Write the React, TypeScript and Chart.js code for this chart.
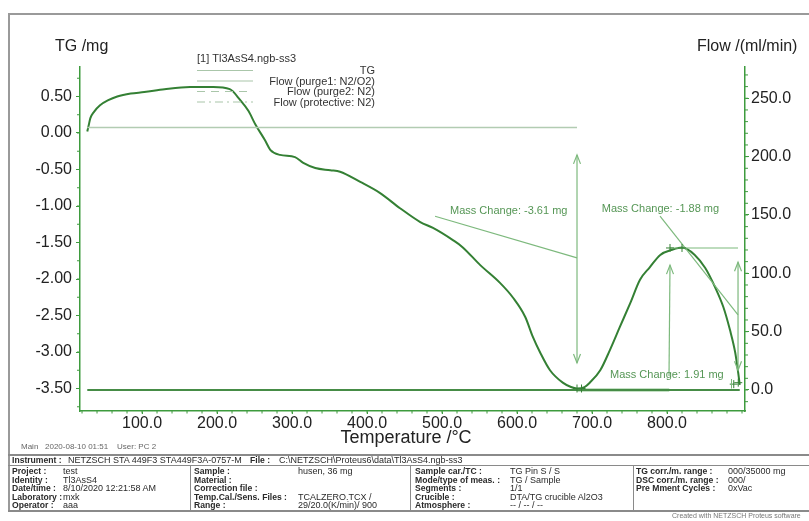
import React, { useEffect, useRef } from 'react';
import { Chart, registerables } from 'chart.js';

Chart.register(...registerables);

const FONT = '"Liberation Sans", Arial, sans-serif';

// ---- data ----
const TEMPS = [27, 29, 31, 36, 44, 55, 67, 85, 103, 130, 164, 195, 217, 231, 242, 251, 264, 271, 284, 304, 315, 331, 351, 364, 391, 417, 444, 471, 488, 515, 527, 551, 577, 595, 611, 621, 631, 644, 661, 672, 680, 690, 697, 711, 724, 737, 751, 764, 777, 791, 807, 820, 837, 851, 864, 875, 884, 891, 895, 897];
const TG_MG = [0.02, 0.11, 0.2, 0.29, 0.38, 0.45, 0.5, 0.54, 0.56, 0.6, 0.63, 0.63, 0.6, 0.45, 0.3, 0.12, -0.1, -0.23, -0.3, -0.33, -0.41, -0.48, -0.51, -0.53, -0.67, -0.82, -1.03, -1.22, -1.3, -1.47, -1.56, -1.81, -2.05, -2.26, -2.52, -2.79, -3.01, -3.25, -3.42, -3.48, -3.5, -3.48, -3.42, -3.25, -2.97, -2.66, -2.33, -2.01, -1.84, -1.67, -1.6, -1.57, -1.67, -1.85, -2.11, -2.38, -2.7, -3.01, -3.29, -3.45];

const PURGE1_TEMPS = [27, 680];
const FLOW_PURGE1 = [225, 225];
const PURGE2_TEMPS = [27, 897];
const FLOW_PURGE2 = [0, 0];
const PROTECTIVE_TEMPS = [680, 803];
const FLOW_PROTECTIVE = [0, 0];

const X_TICKS = [100, 200, 300, 400, 500, 600, 700, 800];
const TG_TICKS = [0.5, 0, -0.5, -1, -1.5, -2, -2.5, -3, -3.5];
const FLOW_TICKS = [0, 50, 100, 150, 200, 250];

const LEGEND_TITLE = '[1] Tl3AsS4.ngb-ss3';
const LEGEND_LABELS = ['TG', 'Flow (purge1: N2/O2)', 'Flow (purge2: N2)', 'Flow (protective: N2)'];

const MASS_LABELS = ['Mass Change: -3.61 mg', 'Mass Change: -1.88 mg', 'Mass Change: 1.91 mg'];
// annotation anchors in data units (temperature, mg)
const MASS_LABEL_T = [510.7, 713, 724];
const MASS_LABEL_MG = [-1.07, -1.04, -3.32];

// ---- styles ----
const AXIS_COLOR = 'rgb(62,155,62)';
const TG_COLOR = 'rgb(52,128,52)';
const ANNO_COLOR = 'rgb(125,185,125)';
const ANNO_TEXT = 'rgb(85,150,85)';
const LEGEND_LINE = 'rgb(170,198,170)';
const TEXT_COLOR = '#222';

const W = 809;
const CH = 452;

function line(ctx: CanvasRenderingContext2D, x1: number, y1: number, x2: number, y2: number) {
  ctx.beginPath();
  ctx.moveTo(x1, y1);
  ctx.lineTo(x2, y2);
  ctx.stroke();
}

function head(ctx: CanvasRenderingContext2D, x: number, y: number, dir: number) {
  // dir = -1 : pointing up, +1 : pointing down
  ctx.beginPath();
  ctx.moveTo(x - 3.5, y - dir * 9);
  ctx.lineTo(x, y);
  ctx.lineTo(x + 3.5, y - dir * 9);
  ctx.stroke();
}

function cross(ctx: CanvasRenderingContext2D, x: number, y: number) {
  line(ctx, x - 4, y, x + 4, y);
  line(ctx, x, y - 4, x, y + 4);
}

const decorPlugin = {
  id: 'decor',
  afterDatasetsDraw(chart: any) {
    const { ctx, chartArea: ca } = chart;
    const x = chart.scales.x;
    const y = chart.scales.y;
    const y1 = chart.scales.y1;
    const X = (v: number) => x.getPixelForValue(v);
    const Y = (v: number) => y.getPixelForValue(v);
    ctx.save();

    // minor ticks
    ctx.strokeStyle = AXIS_COLOR;
    ctx.lineWidth = 1;
    for (let v = 20; v <= 900; v += 20) {
      const px = X(v);
      if (px < ca.left || px > ca.right) continue;
      line(ctx, px, ca.bottom, px, ca.bottom + 2.5);
    }
    for (let v = -3.75; v <= 0.9; v += 0.25) {
      const py = Y(v);
      line(ctx, ca.left - 3, py, ca.left, py);
    }
    for (let v = -10; v <= 270; v += 10) {
      const py = y1.getPixelForValue(v);
      line(ctx, ca.right, py, ca.right + 3, py);
    }

    // axis titles
    ctx.fillStyle = TEXT_COLOR;
    ctx.textBaseline = 'alphabetic';
    ctx.font = `16px ${FONT}`;
    ctx.textAlign = 'left';
    ctx.fillText('TG /mg', 55, 51);
    ctx.fillText('Flow /(ml/min)', 697, 51);
    ctx.font = `18px ${FONT}`;
    ctx.textAlign = 'center';
    ctx.fillText('Temperature /\u00B0C', 406, 443);

    // legend
    ctx.font = `11px ${FONT}`;
    ctx.fillStyle = '#333';
    ctx.textAlign = 'left';
    ctx.textBaseline = 'middle';
    ctx.fillText(LEGEND_TITLE, 197, 59);
    const dashes = [[], [], [8, 6], [8, 4, 2, 4]];
    const rowsY = [70.5, 81, 91.5, 102];
    ctx.textAlign = 'right';
    LEGEND_LABELS.forEach((lab, i) => {
      ctx.strokeStyle = LEGEND_LINE;
      ctx.lineWidth = 1.2;
      ctx.setLineDash(dashes[i]);
      line(ctx, 197, rowsY[i], 253, rowsY[i]);
      ctx.setLineDash([]);
      ctx.fillText(lab, 375, rowsY[i] + 0.5);
    });

    // mass-change annotations
    ctx.strokeStyle = ANNO_COLOR;
    ctx.lineWidth = 1.2;
    // 1: -3.61 mg
    const a1x = X(680);
    line(ctx, a1x, Y(-0.3), a1x, Y(-3.15));
    head(ctx, a1x, Y(-0.3), -1);
    head(ctx, a1x, Y(-3.15), 1);
    line(ctx, X(490.7), Y(-1.14), X(680), Y(-1.71));
    // 2: -1.88 mg
    const a2x = X(894.7);
    line(ctx, X(804), Y(-1.575), a2x, Y(-1.575));
    line(ctx, a2x, Y(-1.77), a2x, Y(-3.25));
    head(ctx, a2x, Y(-1.77), -1);
    head(ctx, a2x, Y(-3.25), 1);
    line(ctx, X(790.7), Y(-1.14), a2x, Y(-2.49));
    // 3: 1.91 mg
    const a3x = X(804);
    line(ctx, a3x - 1, Y(-3.33), a3x, Y(-1.81));
    head(ctx, a3x, Y(-1.81), -1);
    // crosses
    ctx.strokeStyle = TG_COLOR;
    ctx.lineWidth = 1;
    cross(ctx, X(804), Y(-1.575));
    cross(ctx, X(820), Y(-1.575));
    cross(ctx, X(680), Y(-3.5));
    cross(ctx, X(686), Y(-3.5));
    cross(ctx, X(889), Y(-3.44));
    cross(ctx, X(895), Y(-3.42));
    ctx.strokeStyle = ANNO_COLOR;
    line(ctx, X(886), Y(-3.37), X(886), Y(-3.5));

    ctx.fillStyle = ANNO_TEXT;
    ctx.font = `11px ${FONT}`;
    ctx.textAlign = 'left';
    ctx.textBaseline = 'middle';
    MASS_LABELS.forEach((lab, i) => {
      ctx.fillText(lab, X(MASS_LABEL_T[i]), Y(MASS_LABEL_MG[i]));
    });

    ctx.restore();
  },
};

function pts(xs: number[], ys: number[]) {
  return xs.map((v, i) => ({ x: v, y: ys[i] }));
}

const tickFont = { family: FONT, size: 16 };

function ChartView() {
  const ref = useRef<HTMLCanvasElement | null>(null);
  useEffect(() => {
    if (!ref.current) return;
    const chart = new Chart(ref.current, {
      type: 'line',
      data: {
        datasets: [
          {
            label: 'Flow (purge1: N2/O2)',
            data: pts(PURGE1_TEMPS, FLOW_PURGE1),
            yAxisID: 'y1',
            borderColor: 'rgb(178,204,178)',
            borderWidth: 1.5,
            pointRadius: 0,
          },
          {
            label: 'Flow (purge2: N2)',
            data: pts(PURGE2_TEMPS, FLOW_PURGE2),
            yAxisID: 'y1',
            borderColor: 'rgb(70,140,70)',
            borderWidth: 2,
            pointRadius: 0,
          },
          {
            label: 'Flow (protective: N2)',
            data: pts(PROTECTIVE_TEMPS, FLOW_PROTECTIVE),
            yAxisID: 'y1',
            borderColor: 'rgb(140,195,140)',
            borderWidth: 3,
            pointRadius: 0,
          },
          {
            label: 'TG',
            data: pts(TEMPS, TG_MG),
            yAxisID: 'y',
            borderColor: TG_COLOR,
            borderWidth: 2,
            pointRadius: 0,
            cubicInterpolationMode: 'monotone',
          },
        ],
      },
      options: {
        responsive: false,
        animation: false,
        events: [],
        layout: { padding: { top: 67, left: 0, right: 0, bottom: 0 } },
        plugins: { legend: { display: false }, tooltip: { enabled: false } },
        scales: {
          x: {
            type: 'linear',
            position: 'bottom',
            min: 17.3,
            max: 904,
            afterFit: (s: any) => { s.height = CH - 411; },
            afterBuildTicks: (s: any) => { s.ticks = X_TICKS.map((v) => ({ value: v })); },
            ticks: {
              callback: (v: any) => Number(v).toFixed(1),
              font: tickFont,
              color: TEXT_COLOR,
              padding: 0,
              maxRotation: 0,
              autoSkip: false,
            },
            grid: { display: true, drawOnChartArea: false, drawTicks: true, tickLength: 3, color: AXIS_COLOR },
            border: { display: true, color: AXIS_COLOR, width: 1.5 },
          },
          y: {
            type: 'linear',
            position: 'left',
            min: -3.808,
            max: 0.904,
            afterFit: (s: any) => { s.width = 80; },
            afterBuildTicks: (s: any) => { s.ticks = TG_TICKS.map((v) => ({ value: v })); },
            ticks: {
              callback: (v: any) => Number(v).toFixed(2),
              font: tickFont,
              color: TEXT_COLOR,
              padding: 4,
            },
            grid: { display: true, drawOnChartArea: false, drawTicks: true, tickLength: 4, color: AXIS_COLOR },
            border: { display: true, color: AXIS_COLOR, width: 1.5 },
          },
          y1: {
            type: 'linear',
            position: 'right',
            min: -18,
            max: 276.8,
            afterFit: (s: any) => { s.width = W - 745; },
            afterBuildTicks: (s: any) => { s.ticks = FLOW_TICKS.map((v) => ({ value: v })); },
            ticks: {
              callback: (v: any) => Number(v).toFixed(1),
              font: tickFont,
              color: TEXT_COLOR,
              padding: 2,
            },
            grid: { display: true, drawOnChartArea: false, drawTicks: true, tickLength: 4, color: AXIS_COLOR },
            border: { display: true, color: AXIS_COLOR, width: 1.5 },
          },
        },
      } as any,
      plugins: [decorPlugin],
    });
    return () => chart.destroy();
  }, []);
  return (
    <canvas
      ref={ref}
      width={W}
      height={CH}
      style={{ position: 'absolute', left: 0, top: 0, width: W, height: CH }}
    />
  );
}

// ---- info table ----
const T_FONT = 9;
const ROW_Y = [471, 479.5, 488, 496.5, 505];
const COL1_LABELS = ['Project :', 'Identity :', 'Date/time :', 'Laboratory :', 'Operator :'];
const COL1_VALUES = ['test', 'Tl3AsS4', '8/10/2020 12:21:58 AM', 'mxk', 'aaa'];
const COL2_LABELS = ['Sample :', 'Material :', 'Correction file :', 'Temp.Cal./Sens. Files :', 'Range :'];
const COL2_VALUES = ['husen, 36 mg', '', '', 'TCALZERO.TCX /', '29/20.0(K/min)/ 900'];
const COL3_LABELS = ['Sample car./TC :', 'Mode/type of meas. :', 'Segments :', 'Crucible :', 'Atmosphere :'];
const COL3_VALUES = ['TG Pin S / S', 'TG / Sample', '1/1', 'DTA/TG crucible Al2O3', '-- / -- / --'];
const COL4_LABELS = ['TG corr./m. range :', 'DSC corr./m. range :', 'Pre Mment Cycles :'];
const COL4_VALUES = ['000/35000 mg', '000/', '0xVac'];

function Txt(props: { x: number; y: number; bold?: boolean; size?: number; color?: string; children: any }) {
  const size = props.size || (props.bold ? 8.6 : T_FONT);
  return (
    <div
      style={{
        position: 'absolute',
        left: props.x,
        top: props.y - 6,
        height: 12,
        lineHeight: '12px',
        fontSize: size,
        fontFamily: FONT,
        fontWeight: props.bold ? 'bold' : 'normal',
        color: props.color || '#2a2a2a',
        whiteSpace: 'nowrap',
      }}
    >
      {props.children}
    </div>
  );
}

function Column(props: { lx: number; vx: number; labels: string[]; values: string[] }) {
  return (
    <>
      {props.labels.map((l, i) => (
        <Txt key={'l' + i} x={props.lx} y={ROW_Y[i]} bold>{l}</Txt>
      ))}
      {props.values.map((v, i) => (v ? <Txt key={'v' + i} x={props.vx} y={ROW_Y[i]}>{v}</Txt> : null))}
    </>
  );
}

const hl = (top: number, left: number, width: number, color = '#8a8a8a', h = 1) => (
  <div style={{ position: 'absolute', top, left, width, height: h, background: color }} />
);
const vl = (left: number, top: number, height: number, color = '#8a8a8a', w = 1) => (
  <div style={{ position: 'absolute', top, left, width: w, height, background: color }} />
);

export default function App() {
  return (
    <div style={{ position: 'absolute', left: 0, top: 0, width: W, height: 521, overflow: 'hidden', background: '#fff' }}>
      {/* outer frame */}
      {hl(13, 8, W - 8, '#9a9a9a', 2)}
      {vl(8, 13, 497, '#9a9a9a', 2)}
      <ChartView />
      {/* footer line */}
      <Txt x={21} y={447} size={8} color="#666">Main</Txt>
      <Txt x={45} y={447} size={8} color="#666">2020-08-10 01:51</Txt>
      <Txt x={117} y={447} size={8} color="#666">User: PC 2</Txt>
      {/* table */}
      {hl(454, 8, W - 8, '#8a8a8a', 2)}
      {hl(465, 8, W - 8)}
      {hl(510, 8, W - 8, '#8a8a8a', 2)}
      {vl(190, 465, 45)}
      {vl(410, 465, 45)}
      {vl(633, 465, 45)}
      <Txt x={12} y={459.5} bold>Instrument :</Txt>
      <Txt x={68} y={459.5}>NETZSCH STA 449F3 STA449F3A-0757-M</Txt>
      <Txt x={250} y={459.5} bold>File :</Txt>
      <Txt x={279} y={459.5}>C:\NETZSCH\Proteus6\data\Tl3AsS4.ngb-ss3</Txt>
      <Column lx={12} vx={63} labels={COL1_LABELS} values={COL1_VALUES} />
      <Column lx={194} vx={298} labels={COL2_LABELS} values={COL2_VALUES} />
      <Column lx={415} vx={510} labels={COL3_LABELS} values={COL3_VALUES} />
      <Column lx={636} vx={728} labels={COL4_LABELS} values={COL4_VALUES} />
      <Txt x={672} y={516} size={7} color="#777">Created with NETZSCH Proteus software</Txt>
    </div>
  );
}
